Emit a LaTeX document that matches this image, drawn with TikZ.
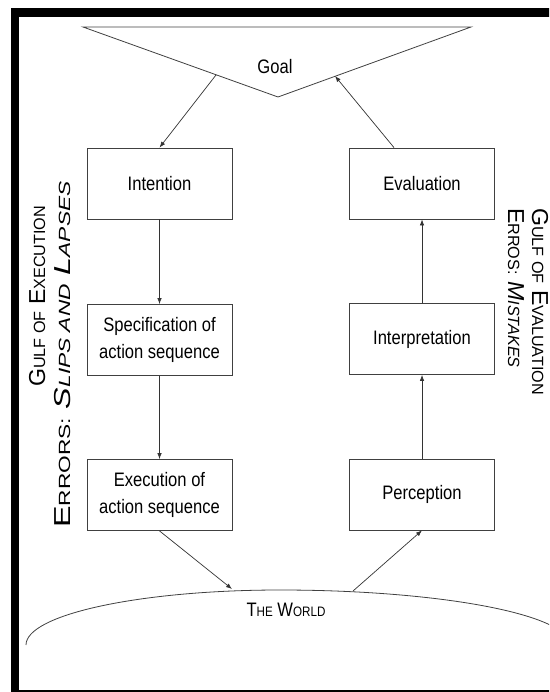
\documentclass[tikz,border=0pt]{standalone}
\usepackage{fontspec}
\setmainfont{Liberation Sans}
\newfontfamily\narrowfont{Liberation Sans}[FakeStretch=0.85]
\newfontfamily\widefont{Liberation Sans}[FakeStretch=1.4]
\usetikzlibrary{arrows.meta}
\newcommand{\lowcaps}[2][16.2]{{\fontsize{#1}{#1}\selectfont #2}}
\tikzset{
  flowarrow/.style={-{Latex[length=6pt,width=4.5pt]}, line width=0.7pt, draw=black!80},
  stepbox/.style={draw=black!75, line width=0.8pt, minimum width=145pt, minimum height=71pt, inner sep=0pt, align=center, font=\narrowfont\fontsize{19.5}{27}\selectfont},
  shapeline/.style={draw=black!75, line width=0.8pt},
  gulflabel/.style={inner sep=0pt, anchor=base west, font=\fontsize{23.1}{26}\selectfont}
}

\begin{document}
\begin{tikzpicture}[x=1pt, y=-1pt]
  \useasboundingbox (0,0) rectangle (549,692);
  % goal
  \draw[shapeline] (83,27) -- (471,27) -- (278,97) -- cycle;
  \node[font=\narrowfont\fontsize{19.5}{22}\selectfont] (goal) at (275,67) {Goal};
  \coordinate (goalin) at (216,75);
  \coordinate (goalout) at (335,76);
  % execution side
  \node[stepbox] (intention) at (159.5,183.5) {Intention};
  \node[stepbox] (specification) at (159.5,340) {Specification of\\action sequence};
  \node[stepbox] (execution) at (159.5,495) {Execution of\\action sequence};
  % evaluation side
  \node[stepbox] (evaluation) at (422,183.5) {Evaluation};
  \node[stepbox] (interpretation) at (422,339) {Interpretation};
  \node[stepbox] (perception) at (422,494.5) {Perception};
  % the world
  \begin{scope}
    \clip (0,0) rectangle (549,692);
    \draw[shapeline] (26,645) arc[start angle=180, end angle=90, x radius=254pt, y radius=55pt]
      arc[start angle=90, end angle=15, x radius=290pt, y radius=55pt];
    \draw[line width=8.5pt] (15,12.5) rectangle (570,694);
  \end{scope}
  \node[font=\narrowfont\fontsize{19.5}{22}\selectfont] (world) at (286,610) {T\lowcaps[13.7]{HE} W\lowcaps[13.7]{ORLD}};
  \coordinate (worldin) at (232,589);
  \coordinate (worldout) at (353,591);
  % gulfs
  \node[gulflabel, rotate=90] (gulfexec) at (45,387) {G\lowcaps{ULF OF} E\lowcaps{XECUTION}};
  \node[gulflabel, rotate=90, font=\widefont\fontsize{23.1}{26}\selectfont] (errexec) at (70,528) {E\lowcaps{RRORS:} \textit{S\lowcaps{LIPS AND} L\lowcaps{APSES}}};
  \node[gulflabel, rotate=-90] (gulfeval) at (532,208) {G\lowcaps{ULF OF} E\lowcaps{VALUATION}};
  \node[gulflabel, rotate=-90] (erreval) at (508,208) {E\lowcaps{RROS:} \textit{M\lowcaps{ISTAKES}}};
  % arrows
  \draw[flowarrow] (goalin) -- (intention.north);
  \draw[flowarrow] (intention) -- (specification);
  \draw[flowarrow] (specification) -- (execution);
  \draw[flowarrow] (execution.south) -- (worldin);
  \draw[flowarrow] (worldout) -- (perception.south);
  \draw[flowarrow] (perception) -- (interpretation);
  \draw[flowarrow] (interpretation) -- (evaluation);
  \draw[flowarrow] ([xshift=-28pt]evaluation.north) -- (goalout);
\end{tikzpicture}
\end{document}
